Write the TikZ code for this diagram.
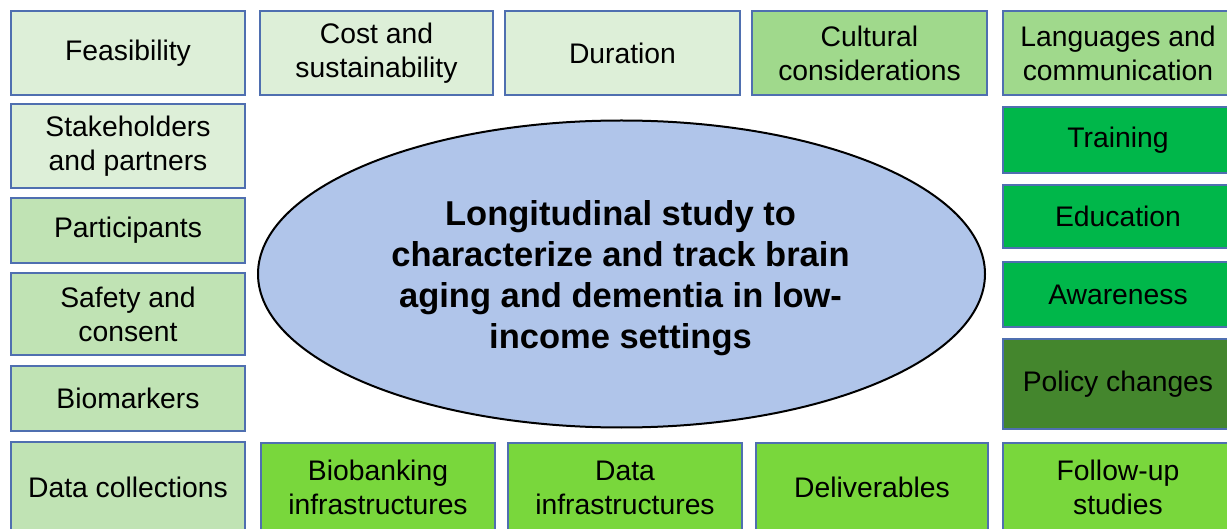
\documentclass[tikz,border=0pt]{standalone}
\usepackage{fontspec}
\setmainfont{Liberation Sans}
\usetikzlibrary{shapes.geometric}
\definecolor{cpale}{HTML}{DDEFD8}
\definecolor{cmid}{HTML}{A0D98C}
\definecolor{clmid}{HTML}{C0E3B4}
\definecolor{cbright}{HTML}{00B74A}
\definecolor{cdark}{HTML}{44862D}
\definecolor{clime}{HTML}{79D73C}
\definecolor{cell}{HTML}{B0C5EA}
\definecolor{cborder}{HTML}{4F6FB0}
\tikzset{
  bx/.style={draw=cborder, line width=1.2pt, rectangle, inner sep=0pt, align=center,
    font=\fontsize{28.3}{34}\selectfont, text=black},
  pale/.style={bx, fill=cpale},
  mid/.style={bx, fill=cmid},
  lmid/.style={bx, fill=clmid},
  bright/.style={bx, fill=cbright},
  dark/.style={bx, fill=cdark},
  lime/.style={bx, fill=clime},
  mainell/.style={ellipse, draw=black, line width=2pt, fill=cell, inner sep=0pt},
  maintext/.style={align=center, inner sep=0pt, font=\fontsize{34.5}{41}\selectfont\bfseries}
}
\begin{document}
\begin{tikzpicture}[x=1pt,y=-1pt]
\useasboundingbox (0,0) rectangle (1227,529);
% top row
\node[pale, minimum width=234pt, minimum height=84pt] (feas) at (128,53) {Feasibility};
\node[pale, minimum width=233pt, minimum height=84pt] (cost) at (376.5,53) {Cost and\\sustainability};
\node[pale, minimum width=235pt, minimum height=84pt] (dur) at (622.5,53) {Duration};
\node[mid, minimum width=235pt, minimum height=84pt] (cult) at (869.5,53) {Cultural\\considerations};
\node[mid, minimum width=230pt, minimum height=84pt] (lang) at (1118,53) {Languages and\\communication};
% left column
\node[pale, minimum width=234pt, minimum height=84pt] (stake) at (128,146) {Stakeholders\\and partners};
\node[lmid, minimum width=234pt, minimum height=65pt] (part) at (128,230.5) {Participants};
\node[lmid, minimum width=234pt, minimum height=82pt] (safe) at (128,314) {Safety and\\consent};
\node[lmid, minimum width=234pt, minimum height=65pt] (biom) at (128,398.5) {Biomarkers};
\node[lmid, minimum width=234pt, minimum height=90pt] (datac) at (128,487) {Data collections};
% right column
\node[bright, minimum width=230pt, minimum height=66pt] (train) at (1118,140) {Training};
\node[bright, minimum width=230pt, minimum height=63pt] (edu) at (1118,216.5) {Education};
\node[bright, minimum width=230pt, minimum height=65pt] (aware) at (1118,294.5) {Awareness};
\node[dark, minimum width=230pt, minimum height=90pt] (policy) at (1118,384) {Policy changes};
\node[lime, minimum width=230pt, minimum height=89pt] (follow) at (1118,487.5) {Follow-up\\studies};
% bottom row
\node[lime, minimum width=234pt, minimum height=89pt] (biobank) at (378,487.5) {Biobanking\\infrastructures};
\node[lime, minimum width=234pt, minimum height=89pt] (datainf) at (625,487.5) {Data\\infrastructures};
\node[lime, minimum width=232pt, minimum height=89pt] (deliv) at (872,487.5) {Deliverables};
% centre
\node[mainell, minimum width=727pt, minimum height=307pt] (study) at (621.5,274) {};
\node[maintext] (studytext) at (620.5,278)
  {Longitudinal study to\\characterize and track brain\\aging and dementia in low-\\income settings};
\end{tikzpicture}
\end{document}
